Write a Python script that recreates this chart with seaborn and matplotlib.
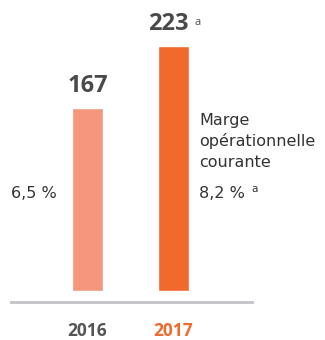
import matplotlib
matplotlib.use("Agg")
import matplotlib.pyplot as plt
import seaborn as sns
import pandas as pd

# Résultat opérationnel courant (M€) et marge associée
years = ["2016", "2017"]
values = [167, 223]
value_labels = ["167", "223"]
value_notes = ["", "a"]
margins = ["6,5 %", "8,2 %"]
margin_title = ["Marge", "opérationnelle", "courante"]

bar_colors = ["#f5977d", "#f2692d"]
year_colors = ["#555555", "#f2692d"]
text_dark = "#4a4a4a"
text_body = "#333333"

sns.set_theme(style="white")
plt.rcParams["font.family"] = ["Open Sans", "DejaVu Sans"]
body_font = ["DejaVu Sans"]

W, H = 325, 340
fig = plt.figure(figsize=(W / 100, H / 100), dpi=100)

def fx(px):
    return px / W

def fy(py):
    return 1 - py / H

ax = fig.add_axes([fx(11), 49 / H, (252 - 11) / W, 291 / H])

df = pd.DataFrame({"year": years, "value": values})
sns.barplot(data=df, x="year", y="value", hue="year", palette=bar_colors,
            width=0.36, legend=False, ax=ax, saturation=1)

ax.set_xlim(-0.89, 1.913)
ax.set_ylim(0, 265)
ax.set_xlabel("")
ax.set_ylabel("")
ax.set_yticks([])

for s in ["top", "right", "left"]:
    ax.spines[s].set_visible(False)
ax.spines["bottom"].set_position(("outward", 8))
ax.spines["bottom"].set_color("#c2c2c8")
ax.spines["bottom"].set_linewidth(2)

ax.tick_params(axis="x", length=0, pad=14.5)
ax.set_xticks(range(len(years)))
ax.set_xticklabels(years, fontsize=12.5, fontweight="bold")
for lbl, c in zip(ax.get_xticklabels(), year_colors):
    lbl.set_color(c)

# Valeurs au-dessus des barres
for i, (v, lab, note) in enumerate(zip(values, value_labels, value_notes)):
    ax.annotate(lab, xy=(i, v), xytext=(-4 if note else 0, 7),
                textcoords="offset points", ha="center", va="bottom",
                fontsize=17, fontweight="bold", color=text_dark)
    if note:
        ax.annotate(note, xy=(i, v), xytext=(15, 13),
                    textcoords="offset points", ha="left", va="bottom",
                    fontsize=8, color=text_dark)

# Marges
fig.text(fx(11), fy(198), margins[0], fontsize=11.5, color=text_body,
         ha="left", va="baseline", family=body_font)
for line, base in zip(margin_title, [125, 146, 167]):
    fig.text(fx(199), fy(base), line, fontsize=11.5, color=text_body,
             ha="left", va="baseline", family=body_font)
fig.text(fx(199), fy(198), margins[1], fontsize=11.5, color=text_body,
         ha="left", va="baseline", family=body_font)
fig.text(fx(251), fy(192), "a", fontsize=7.5, color=text_body,
         ha="left", va="baseline", family=body_font)

fig.savefig("out.png", dpi=100)
